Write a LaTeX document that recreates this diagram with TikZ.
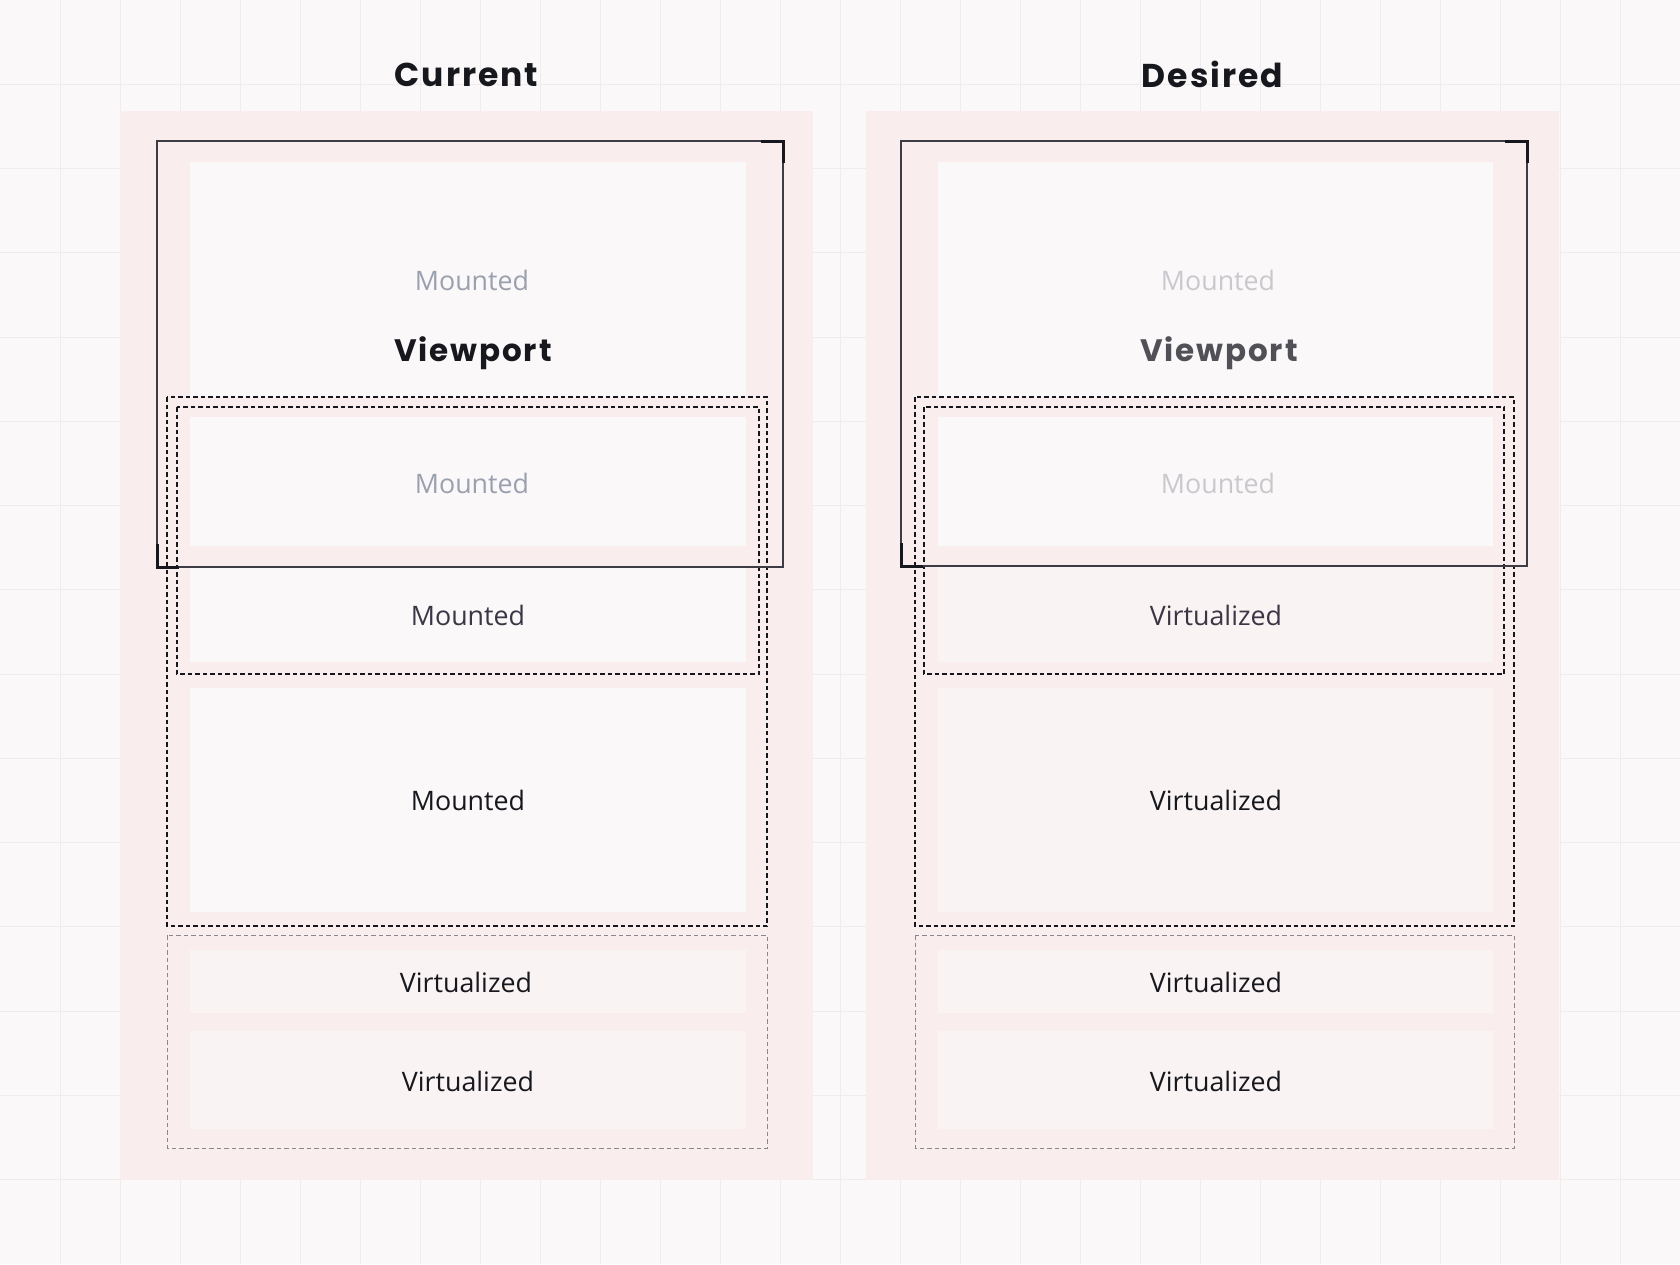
\documentclass[tikz,border=0pt]{standalone}
\usepackage{fontspec}
\setmainfont{Open Sans}
\newfontfamily\titlefont{Poppins}[LetterSpace=6]
\definecolor{bgc}{HTML}{FAF8F9}
\definecolor{gridc}{HTML}{F0ECEE}
\definecolor{panelc}{HTML}{FAEDED}
\definecolor{mfillc}{HTML}{FAF8F9}
\definecolor{vfillc}{HTML}{F9F3F3}
\definecolor{inkc}{HTML}{17171E}
\definecolor{midc}{HTML}{3A3644}
\definecolor{grayc}{HTML}{9BA0AF}
\definecolor{faintc}{HTML}{C9C8CC}
\definecolor{vpgrayc}{HTML}{505056}
\definecolor{vpline}{HTML}{3D3C44}
\definecolor{dashgray}{HTML}{8A8690}
\tikzset{
  title/.style={font=\titlefont\bfseries\fontsize{33}{38}\selectfont, text=inkc, inner sep=0pt},
  vplabel/.style={font=\titlefont\bfseries\fontsize{31}{36}\selectfont, inner sep=0pt},
  lbl/.style={font=\fontsize{26.8}{30}\selectfont, inner sep=0pt},
  mbox/.style={fill=mfillc},
  vbox/.style={fill=vfillc},
  grpdash/.style={draw=inkc, line width=1.1pt, dash pattern=on 4.5pt off 3pt},
  grpdashgray/.style={draw=dashgray, line width=1pt, dash pattern=on 4.5pt off 3pt},
  vprect/.style={draw=vpline, line width=1.1pt},
  bracket/.style={draw=inkc, line width=3pt},
}
\begin{document}
\begin{tikzpicture}[x=1pt,y=-1pt]
\fill[bgc] (0,0) rectangle (1680,1264);
\useasboundingbox (0,0) rectangle (1680,1264);
\foreach \i in {1,...,27} \draw[gridc, line width=1pt] (\i*60,0) -- (\i*60,1264);
\foreach \j in {1,...,14} \draw[gridc, line width=1pt] (0,\j*84.267) -- (1680,\j*84.267);

% titles
\node[title] (tcur) at (466.5,74.5) {Current};
\node[title] (tdes) at (1212.5,74.5) {Desired};

% ---------- left panel ----------
\fill[panelc] (120,111) rectangle (813,1180);
\fill[mbox] (190,162) rectangle (746,397);
\fill[mbox] (190,417) rectangle (746,546);
\fill[mbox] (190,567) rectangle (746,662);
\fill[mbox] (190,688) rectangle (746,912);
\fill[vbox] (190,950) rectangle (746,1013);
\fill[vbox] (190,1031) rectangle (746,1129);
\draw[grpdash] (167,397) rectangle (767,926);
\draw[grpdash] (177,407) rectangle (759,674);
\draw[grpdashgray] (167,935) rectangle (767,1148);
\draw[vprect] (157,141) rectangle (783,567);
\draw[bracket] (761,141) -| (783,163);
\draw[bracket] (157,544) |- (179,567);
\node[lbl, text=grayc] (lm1) at (472,280) {Mounted};
\node[vplabel, text=inkc] (lvp) at (473,353) {Viewport};
\node[lbl, text=grayc] (lm2) at (472,483) {Mounted};
\node[lbl, text=midc] (lm3) at (468,615) {Mounted};
\node[lbl, text=inkc] (lm4) at (468,800) {Mounted};
\node[lbl, text=inkc] (lv5) at (466,982) {Virtualized};
\node[lbl, text=inkc] (lv6) at (468,1081) {Virtualized};

% ---------- right panel ----------
\begin{scope}[xshift=746pt]
\fill[panelc] (120,111) rectangle (813,1180);
\fill[mbox] (191.5,162) rectangle (747,397);
\fill[mbox] (191.5,417) rectangle (747,546);
\fill[vbox] (191.5,567) rectangle (747,662);
\fill[vbox] (191.5,688) rectangle (747,912);
\fill[vbox] (191.5,950) rectangle (747,1013);
\fill[vbox] (191.5,1031) rectangle (747,1129);
\draw[grpdash] (169,397) rectangle (768,926);
\draw[grpdash] (178,407) rectangle (758,674);
\draw[grpdashgray] (169,935) rectangle (768,1148);
\draw[vprect] (155,141) rectangle (781,566);
\draw[bracket] (759,141) -| (781,163);
\draw[bracket] (155,543) |- (177,566);
\node[lbl, text=faintc] (rm1) at (472,280) {Mounted};
\node[vplabel, text=vpgrayc] (rvp) at (473,353) {Viewport};
\node[lbl, text=faintc] (rm2) at (472,483) {Mounted};
\node[lbl, text=midc] (rv3) at (470,615) {Virtualized};
\node[lbl, text=inkc] (rv4) at (470,800) {Virtualized};
\node[lbl, text=inkc] (rv5) at (470,982) {Virtualized};
\node[lbl, text=inkc] (rv6) at (470,1081) {Virtualized};
\end{scope}
\end{tikzpicture}
\end{document}
